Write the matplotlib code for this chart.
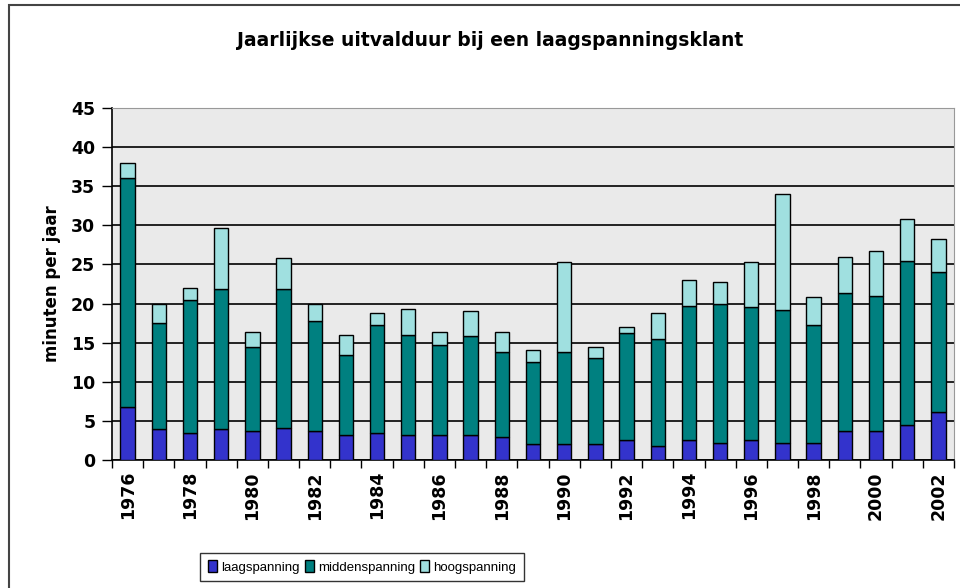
import matplotlib.pyplot as plt
import numpy as np
from matplotlib.patches import Rectangle

years = list(range(1976, 2003))
# cumulative tops
laag = [6.8, 4.0, 3.5, 4.0, 3.75, 4.1, 3.75, 3.2, 3.5, 3.2, 3.2, 3.2, 3.0, 2.1,
        2.1, 2.1, 2.5, 1.8, 2.5, 2.2, 2.5, 2.2, 2.2, 3.75, 3.75, 4.5, 6.2]
midden_top = [36.0, 17.5, 20.5, 21.9, 14.5, 21.9, 17.8, 13.4, 17.2, 16.0, 14.7, 15.8, 13.8, 12.5,
              13.8, 13.0, 16.2, 15.5, 19.7, 20.0, 19.5, 19.2, 17.2, 21.4, 21.0, 25.4, 24.0]
totaal = [38.0, 20.0, 22.0, 29.6, 16.3, 25.8, 19.9, 16.0, 18.75, 19.3, 16.3, 19.0, 16.3, 14.1,
          25.3, 14.5, 17.0, 18.8, 23.0, 22.8, 25.3, 34.0, 20.8, 26.0, 26.7, 30.8, 28.2]

laag = np.array(laag)
midden = np.array(midden_top) - laag
hoog = np.array(totaal) - np.array(midden_top)

plt.rcParams['font.family'] = ['DejaVu Sans']

fig = plt.figure(figsize=(9.6, 5.88), dpi=100)
ax = fig.add_axes([112/960, 1-460/588, (954-112)/960, (460-108)/588])

x = np.arange(len(years))
w = 0.46
ax.bar(x, laag, w, color='#3333CC', edgecolor='black', linewidth=1, label='laagspanning', zorder=3)
ax.bar(x, midden, w, bottom=laag, color='#008080', edgecolor='black', linewidth=1,
       label='middenspanning', zorder=3)
ax.bar(x, hoog, w, bottom=laag+midden, color='#A0E0E0', edgecolor='black', linewidth=1,
       label='hoogspanning', zorder=3)

ax.set_facecolor('#EAEAEA')
ax.set_xlim(-0.5, len(years)-0.5)
ax.set_ylim(0, 45)
ax.set_yticks(range(0, 46, 5))
ax.yaxis.grid(True, color='black', linewidth=1.2, zorder=1)
ax.set_axisbelow(True)

ax.set_xticks(np.arange(-0.5, len(years), 1))
ax.set_xticklabels([])
ax.set_xticks(x[::2], minor=True)
ax.set_xticklabels([str(y) for y in years[::2]], minor=True, rotation=90,
                   fontsize=12.5, fontweight='bold')
ax.tick_params(axis='x', which='minor', length=0, pad=8)
ax.tick_params(axis='x', which='major', length=6, width=1, direction='out')
ax.tick_params(axis='y', length=7, width=1, labelsize=12.5, pad=5)
for lab in ax.get_yticklabels():
    lab.set_fontweight('bold')

for s in ['top', 'right']:
    ax.spines[s].set_color('#999999')
ax.spines['left'].set_linewidth(1.2)
ax.spines['bottom'].set_linewidth(1.2)

ax.set_ylabel('minuten per jaar', fontsize=12, fontweight='bold', labelpad=7)

fig.text(490/960, 1-40/588, 'Jaarlijkse uitvalduur bij een laagspanningsklant',
         ha='center', va='center', fontsize=13.5, fontweight='bold')

leg = fig.legend(loc='center', bbox_to_anchor=(362/960, 1-567/588), ncol=3,
                 frameon=True, fancybox=False,
                 prop={'family': ['Liberation Sans', 'DejaVu Sans'], 'size': 9.5},
                 handlelength=0.7, handleheight=1.0, handletextpad=0.3,
                 columnspacing=0.4, borderpad=0.55)
leg.get_frame().set_edgecolor('black')
leg.get_frame().set_linewidth(1)

fig.patches.append(Rectangle((9/960, -0.1), 1.1, 1-5/588+0.1, transform=fig.transFigure,
                             fill=False, edgecolor='#444444', linewidth=1.5))

fig.savefig('out.png', dpi=100)
